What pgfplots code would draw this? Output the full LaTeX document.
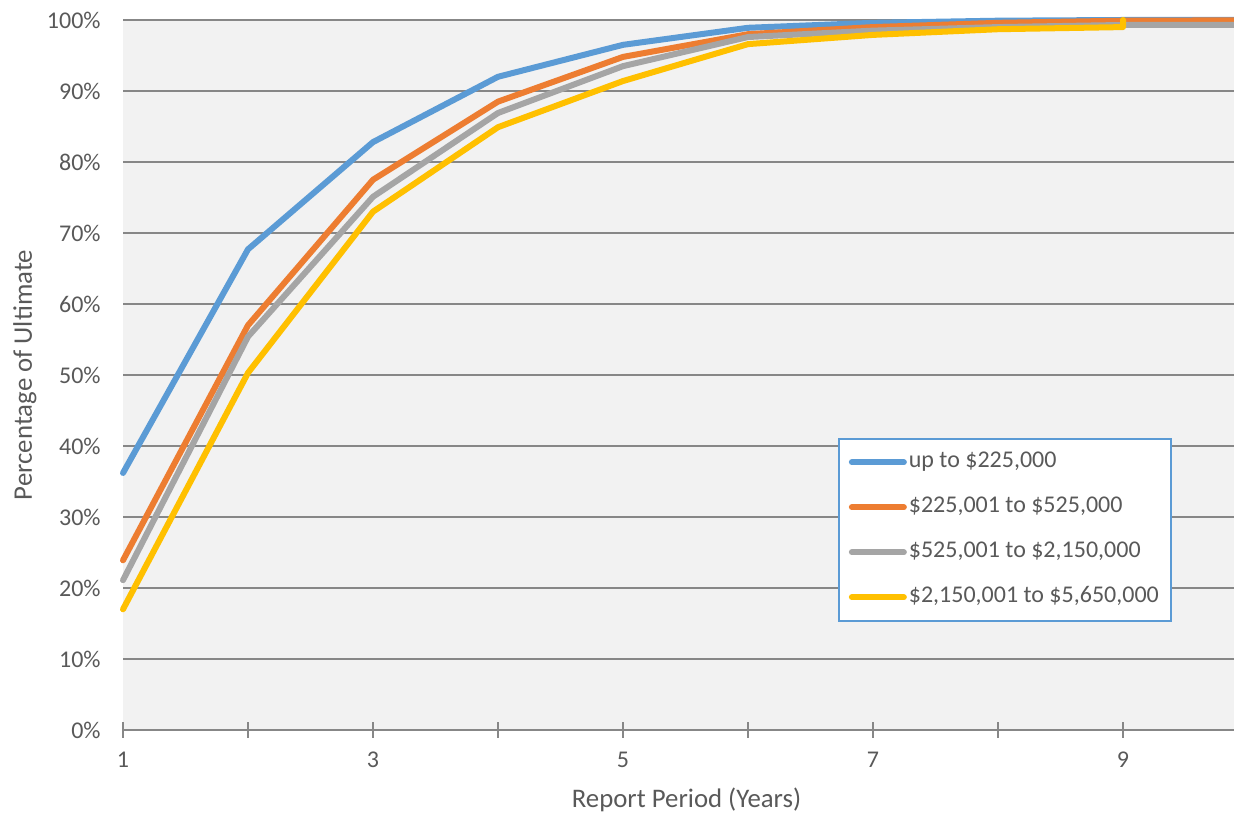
\documentclass[border=0pt]{standalone}
\usepackage{fontspec}
\setmainfont{Carlito}
\usepackage{pgfplots}
\pgfplotsset{compat=1.18}
\definecolor{ser1}{HTML}{5B9BD5}
\definecolor{ser2}{HTML}{ED7D31}
\definecolor{ser3}{HTML}{A5A5A5}
\definecolor{ser4}{HTML}{FFC000}
\definecolor{txt}{HTML}{595959}
\definecolor{gridc}{HTML}{878787}
\definecolor{plotbg}{HTML}{F2F2F2}

\begin{document}
\begin{tikzpicture}
\begin{axis}[
  scale only axis, width=555.5pt, height=355pt,
  xmin=1, xmax=9.888, ymin=0, ymax=100,
  clip=false,
  font=\fontsize{12pt}{14pt}\selectfont,
  axis background/.style={fill=plotbg},
  axis x line*=bottom, axis y line*=left,
  y axis line style={draw=none},
  x axis line style={gridc, line width=0.8pt, -},
  xtick={1,...,9}, xticklabels={1,,3,,5,,7,,9},
  ytick={0,10,...,100},
  ymajorgrids, major grid style={gridc, line width=0.8pt},
  tick align=center, major tick length=8pt,
  xtick style={gridc, line width=0.8pt},
  ytick style={draw=none},
  /pgf/number format/assume math mode=true,
  yticklabel={\pgfmathprintnumber{\tick}\%},
  ticklabel style={text=txt},
  yticklabel style={inner sep=0pt, xshift=-7pt},
  xticklabel style={inner sep=0pt, yshift=-7pt},
  xlabel={Report Period (Years)},
  ylabel={Percentage of Ultimate},
  label style={text=txt, font=\fontsize{13.4pt}{16pt}\selectfont},
  xlabel style={at={(axis description cs:0.5072,0)}, anchor=center, yshift=-35pt},
  ylabel style={at={(axis description cs:0,0.5)}, anchor=center, yshift=49pt},
  every axis plot/.append style={line width=3pt, line cap=round, line join=round},
  legend cell align=left,
  legend image code/.code={\draw[#1, line width=3pt, line cap=round] (0pt,0pt) -- (26pt,0pt);},
  legend style={at={(rel axis cs:0.6436,0.4113)}, anchor=north west,
    draw=ser1, line width=0.8pt, fill=white, text=txt,
    font=\fontsize{12pt}{14pt}\selectfont,
    inner xsep=5pt, inner ysep=5.5pt, row sep=10pt,
    nodes={inner sep=1pt, text height=8pt, text depth=2.5pt}},
]
\addplot[ser1] coordinates {(1,36.2) (2,67.7) (3,82.8) (4,92.0) (5,96.5) (6,98.9) (7,99.6) (8,99.9) (9,100) (10,100)};
\addlegendentry{up to \$225,000}
\addplot[ser2] coordinates {(1,23.9) (2,57.0) (3,77.5) (4,88.5) (5,94.8) (6,98.0) (7,99.0) (8,99.6) (9,99.9) (10,99.95)};
\addlegendentry{\$225,001 to \$525,000}
\addplot[ser3] coordinates {(1,21.1) (2,55.4) (3,75.1) (4,86.9) (5,93.5) (6,97.6) (7,98.5) (8,99.0) (9,99.3) (10,99.3)};
\addlegendentry{\$525,001 to \$2,150,000}
\addplot[ser4] coordinates {(1,17.0) (2,50.3) (3,73.0) (4,84.9) (5,91.4) (6,96.6) (7,97.9) (8,98.7) (9,99.0) (9,100)};
\addlegendentry{\$2,150,001 to \$5,650,000}
\end{axis}
\pgfresetboundingbox
\path[use as bounding box] ([xshift=-61.5pt,yshift=-41pt]current axis.south west) rectangle ([yshift=10pt]current axis.north east);
\end{tikzpicture}
\end{document}
